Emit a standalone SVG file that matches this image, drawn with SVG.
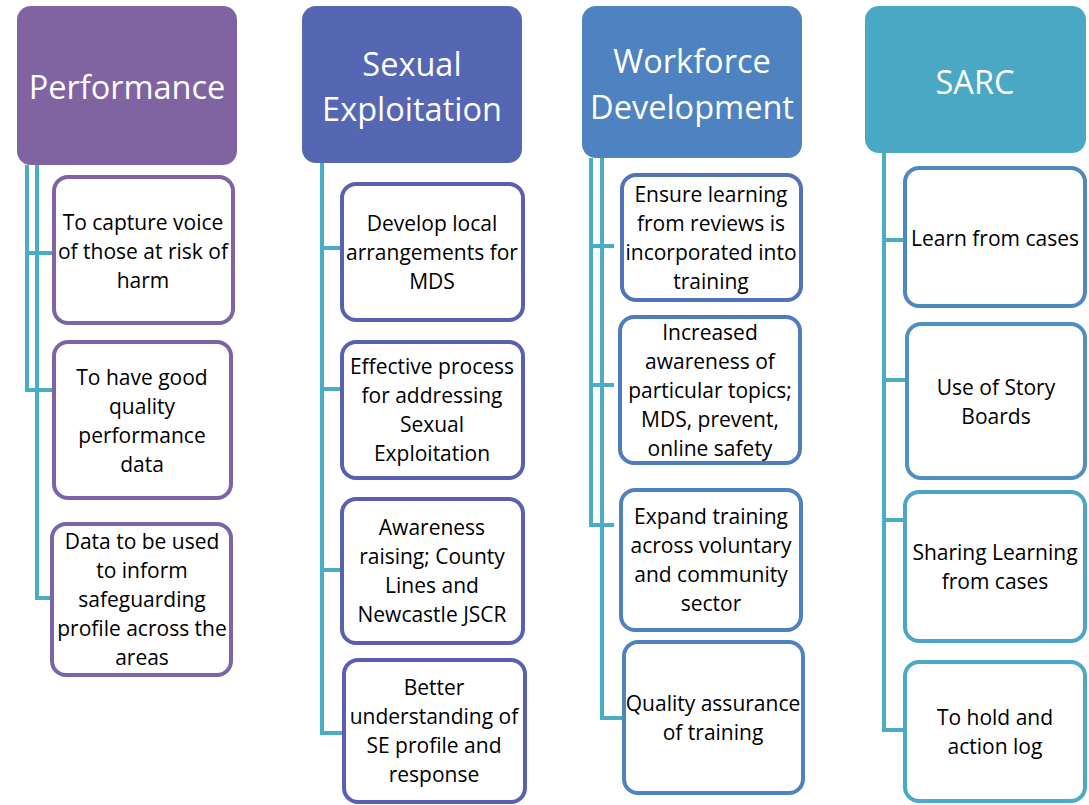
<svg xmlns="http://www.w3.org/2000/svg" width="1089" height="805" viewBox="0 0 1089 805">
<style>
.hdr{stroke:none}
.ht{font-family:"Open Sans","Liberation Sans",sans-serif;font-size:32.5px;fill:#fff;text-anchor:middle}
.box{fill:#fff;stroke-width:4}
.bt{font-family:"Open Sans","Liberation Sans",sans-serif;font-size:21px;fill:#000;text-anchor:middle}
.con{fill:none;stroke:#4BACC6;stroke-width:4}
</style>
<rect width="1089" height="805" fill="#fff"/>
<g id="connectors">
<path class="con" d="M27,165 V253 H54"/>
<path class="con" d="M27,165 V390 H54"/>
<path class="con" d="M37,165 V598 H52"/>
<path class="con" d="M322,163 V248 H342"/>
<path class="con" d="M322,163 V389 H342"/>
<path class="con" d="M322,163 V570 H342"/>
<path class="con" d="M322,163 V733 H344"/>
<path class="con" d="M591,158 V246 H614"/>
<path class="con" d="M591,158 V385 H614"/>
<path class="con" d="M591,158 V525 H614"/>
<path class="con" d="M602,158 V718 H624"/>
<path class="con" d="M884,153 V240 H905"/>
<path class="con" d="M884,153 V380 H907"/>
<path class="con" d="M884,153 V520 H905"/>
<path class="con" d="M884,153 V730 H905"/>
</g>
<g id="performance">
<rect class="hdr" x="17" y="6" width="220" height="159" rx="14" fill="#8064A2"/>
<text class="ht" x="127" y="99">Performance</text>
</g>
<g id="perf-1">
<rect class="box" x="54" y="177" width="179" height="146" rx="14" stroke="#7F63A3"/>
<text class="bt" x="143" y="230"><tspan x="143">To capture voice</tspan><tspan x="143" dy="29">of those at risk of</tspan><tspan x="143" dy="29">harm</tspan></text>
</g>
<g id="perf-2">
<rect class="box" x="54" y="342" width="177" height="156" rx="14" stroke="#7D63A6"/>
<text class="bt" x="142" y="384.5"><tspan x="142">To have good</tspan><tspan x="142" dy="29">quality</tspan><tspan x="142" dy="29">performance</tspan><tspan x="142" dy="29">data</tspan></text>
</g>
<g id="perf-3">
<rect class="box" x="52" y="524" width="179" height="151" rx="14" stroke="#7A65AA"/>
<text class="bt" x="142" y="549"><tspan x="142">Data to be used</tspan><tspan x="142" dy="29">to inform</tspan><tspan x="142" dy="29">safeguarding</tspan><tspan x="142" dy="29">profile across the</tspan><tspan x="142" dy="29">areas</tspan></text>
</g>
<g id="sexual-exploitation">
<rect class="hdr" x="302" y="6" width="220" height="157" rx="14" fill="#5566B3"/>
<text class="ht" x="412" y="76"><tspan x="412">Sexual</tspan><tspan x="412" dy="45">Exploitation</tspan></text>
</g>
<g id="se-1">
<rect class="box" x="342" y="184" width="181" height="136" rx="14" stroke="#5A60B1"/>
<text class="bt" x="432" y="231"><tspan x="432">Develop local</tspan><tspan x="432" dy="29">arrangements for</tspan><tspan x="432" dy="29">MDS</tspan></text>
</g>
<g id="se-2">
<rect class="box" x="342" y="342" width="181" height="136" rx="14" stroke="#5A60B1"/>
<text class="bt" x="432" y="374"><tspan x="432">Effective process</tspan><tspan x="432" dy="29">for addressing</tspan><tspan x="432" dy="29">Sexual</tspan><tspan x="432" dy="29">Exploitation</tspan></text>
</g>
<g id="se-3">
<rect class="box" x="342" y="499" width="181" height="144" rx="14" stroke="#5A60B1"/>
<text class="bt" x="432" y="535"><tspan x="432">Awareness</tspan><tspan x="432" dy="29">raising; County</tspan><tspan x="432" dy="29">Lines and</tspan><tspan x="432" dy="29">Newcastle JSCR</tspan></text>
</g>
<g id="se-4">
<rect class="box" x="344" y="660" width="181" height="142" rx="14" stroke="#5A60B1"/>
<text class="bt" x="434" y="695"><tspan x="434">Better</tspan><tspan x="434" dy="29">understanding of</tspan><tspan x="434" dy="29">SE profile and</tspan><tspan x="434" dy="29">response</tspan></text>
</g>
<g id="workforce-development">
<rect class="hdr" x="582" y="6" width="220" height="152" rx="14" fill="#4F82C0"/>
<text class="ht" x="692" y="73"><tspan x="692">Workforce</tspan><tspan x="692" dy="46">Development</tspan></text>
</g>
<g id="wd-1">
<rect class="box" x="622" y="175" width="179" height="125" rx="14" stroke="#5273BA"/>
<text class="bt" x="711" y="202"><tspan x="711">Ensure learning</tspan><tspan x="711" dy="29">from reviews is</tspan><tspan x="711" dy="29">incorporated into</tspan><tspan x="711" dy="29">training</tspan></text>
</g>
<g id="wd-2">
<rect class="box" x="620" y="317" width="180" height="146" rx="14" stroke="#4F7CBE"/>
<text class="bt" x="710" y="339.5"><tspan x="710">Increased</tspan><tspan x="710" dy="29">awareness of</tspan><tspan x="710" dy="29">particular topics;</tspan><tspan x="710" dy="29">MDS, prevent,</tspan><tspan x="710" dy="29">online safety</tspan></text>
</g>
<g id="wd-3">
<rect class="box" x="621" y="490" width="180" height="140" rx="14" stroke="#4F80BF"/>
<text class="bt" x="711" y="523.5"><tspan x="711">Expand training</tspan><tspan x="711" dy="29">across voluntary</tspan><tspan x="711" dy="29">and community</tspan><tspan x="711" dy="29">sector</tspan></text>
</g>
<g id="wd-4">
<rect class="box" x="624" y="642" width="179" height="151" rx="14" stroke="#4F83C0"/>
<text class="bt" x="713" y="711"><tspan x="713">Quality assurance</tspan><tspan x="713" dy="29">of training</tspan></text>
</g>
<g id="sarc">
<rect class="hdr" x="865" y="6" width="221" height="147" rx="14" fill="#4AA8C5"/>
<text class="ht" x="975" y="94">SARC</text>
</g>
<g id="sarc-1">
<rect class="box" x="905" y="168" width="180" height="138" rx="14" stroke="#4F88C0"/>
<text class="bt" x="995" y="246">Learn from cases</text>
</g>
<g id="sarc-2">
<rect class="box" x="907" y="324" width="178" height="154" rx="14" stroke="#4E90C2"/>
<text class="bt" x="996" y="394.5"><tspan x="996">Use of Story</tspan><tspan x="996" dy="29">Boards</tspan></text>
</g>
<g id="sarc-3">
<rect class="box" x="905" y="492" width="180" height="149" rx="14" stroke="#4CA5C8"/>
<text class="bt" x="995" y="560"><tspan x="995">Sharing Learning</tspan><tspan x="995" dy="29">from cases</tspan></text>
</g>
<g id="sarc-4">
<rect class="box" x="905" y="662" width="180" height="139" rx="14" stroke="#4BA9C8"/>
<text class="bt" x="995" y="725"><tspan x="995">To hold and</tspan><tspan x="995" dy="29">action log</tspan></text>
</g>
</svg>
